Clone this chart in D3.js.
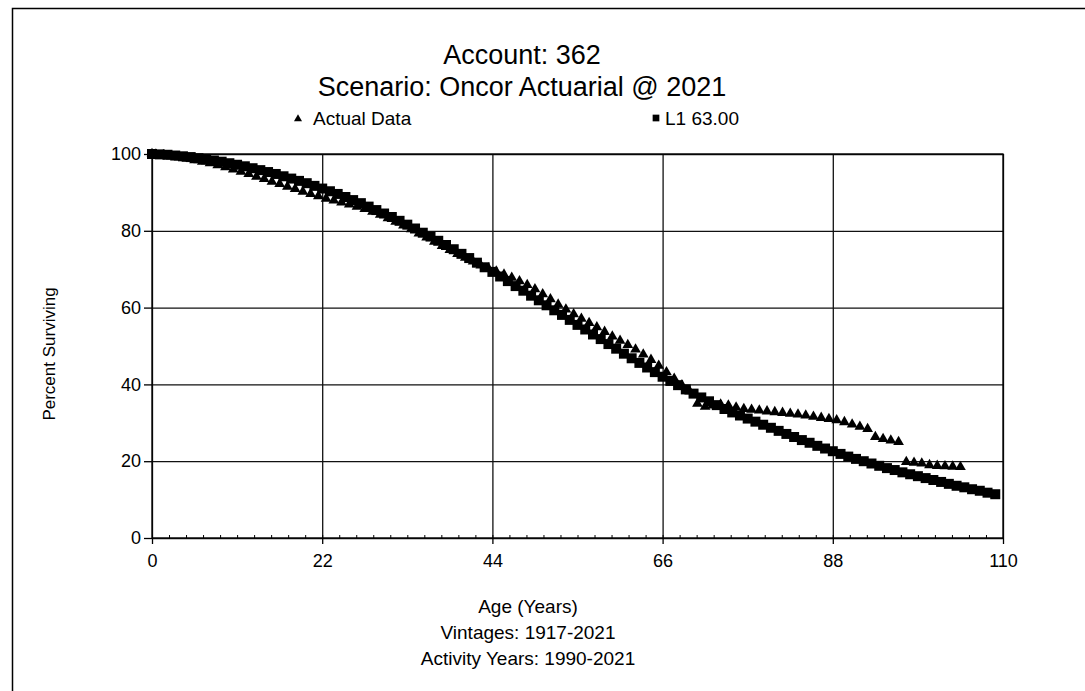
<!DOCTYPE html>
<html>
<head>
<meta charset="utf-8">
<script src="https://cdn.jsdelivr.net/npm/d3@7"></script>
<style>
  body { margin: 0; background: #fff; }
  svg { display: block; font-family: "Liberation Sans", Arial, sans-serif; }
</style>
</head>
<body>
<script>
// survivor curve, L1 63.00 (one point per year)
var curveAges = d3.range(0, 110);
var curvePct = [100,99.9,99.8,99.6,99.4,99.2,98.9,98.6,98.3,98.0,
  97.6,97.2,96.8,96.3,95.8,95.3,94.8,94.2,93.6,93.0,
  92.4,91.7,91.0,90.3,89.6,88.8,88.0,87.2,86.3,85.4,
  84.5,83.6,82.6,81.6,80.6,79.5,78.5,77.4,76.3,75.2,
  74.0,72.9,71.7,70.5,69.3,68.1,66.9,65.6,64.4,63.1,
  61.9,60.6,59.3,58.1,56.8,55.5,54.3,53.0,51.8,50.5,
  49.3,48.0,46.8,45.6,44.4,43.2,42.0,40.9,39.8,38.7,
  37.6,36.6,35.6,34.6,33.6,32.7,31.9,31.1,30.3,29.5,
  28.7,27.9,27.1,26.3,25.5,24.8,24.0,23.3,22.6,21.9,
  21.2,20.6,20.0,19.4,18.8,18.2,17.7,17.1,16.6,16.1,
  15.6,15.1,14.6,14.1,13.6,13.2,12.7,12.3,11.8,11.4];

// actual data, observed at mid-year ages
var actualAges = [0].concat(d3.range(0.5, 105, 1));
var actualPct = [100,99.9,99.7,99.4,99.1,98.8,98.4,98.0,97.6,97.1,96.6,
  96.0,95.4,94.8,94.1,93.5,92.8,92.2,91.5,90.9,90.2,
  89.6,89.0,88.4,87.9,87.4,86.9,86.3,85.7,85.0,84.2,
  83.3,82.4,81.4,80.4,79.3,78.3,77.2,76.1,75.0,74.0,
  73.0,72.0,71.0,70.2,69.4,68.6,67.8,66.9,65.9,64.8,
  63.5,62.2,60.8,59.5,58.3,57.1,56.0,54.9,53.7,52.5,
  51.4,50.3,49.1,47.8,46.4,44.9,43.2,41.5,39.8,38.2,
  35.0,34.2,34.5,34.8,34.5,34.0,33.6,33.4,33.2,33.0,
  32.8,32.6,32.4,32.2,31.9,31.6,31.3,31.0,30.7,30.2,
  29.6,29.0,28.4,26.3,25.8,25.4,25.0,19.8,19.6,19.4,
  19.0,18.8,18.7,18.6,18.5];

var xTicks = [0, 22, 44, 66, 88, 110];
var yTicks = [0, 20, 40, 60, 80, 100];
var titleLines = ["Account: 362", "Scenario: Oncor Actuarial @ 2021"];
var footLines = ["Age (Years)", "Vintages: 1917-2021", "Activity Years: 1990-2021"];
var seriesNames = ["Actual Data", "L1 63.00"];

var W = 1085, H = 691;
var margin = {top: 154, right: 82, bottom: 153, left: 152};
var width = W - margin.left - margin.right,
    height = H - margin.top - margin.bottom;

var svg = d3.select("body").append("svg")
    .attr("width", W)
    .attr("height", H);

// scanned page frame (only top and left edges show)
svg.append("path")
    .attr("d", "M12.5," + H + "V8.5H" + W)
    .attr("fill", "none")
    .attr("stroke", "#000")
    .attr("stroke-width", 1.5);

svg.selectAll(".title")
    .data(titleLines)
  .enter().append("text")
    .attr("class", "title")
    .attr("x", 522)
    .attr("y", function(d, i) { return 64 + i * 32; })
    .attr("text-anchor", "middle")
    .style("font-size", "27px")
    .text(function(d) { return d; });

var x = d3.scaleLinear().domain([0, 110]).range([0, width]);
var y = d3.scaleLinear().domain([0, 100]).range([height, 0]);

var g = svg.append("g")
    .attr("transform", "translate(" + margin.left + "," + margin.top + ")");

// grid
g.append("g")
    .attr("class", "grid")
    .call(d3.axisLeft(y).tickValues(yTicks).tickSize(-width).tickFormat(""))
    .call(function(s) { s.select(".domain").remove(); });
g.append("g")
    .attr("class", "grid")
    .attr("transform", "translate(0," + height + ")")
    .call(d3.axisBottom(x).tickValues(xTicks).tickSize(-height).tickFormat(""))
    .call(function(s) { s.select(".domain").remove(); });
g.selectAll(".grid line").attr("stroke", "#111").attr("stroke-width", 1.3);

g.append("rect")
    .attr("width", width)
    .attr("height", height)
    .attr("fill", "none")
    .attr("stroke", "#000")
    .attr("stroke-width", 1.3);

// minor ticks along the bottom
g.append("g")
    .attr("transform", "translate(0," + height + ")")
    .call(d3.axisBottom(x).tickValues(d3.range(0, 110, 2.2)).tickSize(-3).tickFormat(""))
    .call(function(s) { s.select(".domain").remove(); })
    .selectAll("line").attr("stroke", "#000");

var yAxis = g.append("g")
    .call(d3.axisLeft(y).tickValues(yTicks).tickSize(8).tickPadding(3));
var xAxis = g.append("g")
    .attr("transform", "translate(0," + height + ")")
    .call(d3.axisBottom(x).tickValues(xTicks).tickSize(6).tickPadding(10));
[xAxis, yAxis].forEach(function(a) {
  a.select(".domain").remove();
  a.selectAll("line").attr("stroke", "#000").attr("stroke-width", 1.3);
  a.selectAll("text").attr("fill", "#000").style("font-size", "18px")
    .style("font-family", "'Liberation Sans', Arial, sans-serif");
});

var square = d3.symbol().type(d3.symbolSquare).size(100);
var triangle = d3.symbol().type(d3.symbolTriangle).size(50);

g.selectAll(".sq")
    .data(curveAges)
  .enter().append("path")
    .attr("class", "sq")
    .attr("transform", function(d, i) { return "translate(" + x(d) + "," + y(curvePct[i]) + ")"; })
    .attr("d", square)
    .attr("fill", "#000");

g.selectAll(".tri")
    .data(actualAges)
  .enter().append("path")
    .attr("class", "tri")
    .attr("transform", function(d, i) { return "translate(" + x(d) + "," + y(actualPct[i]) + ")"; })
    .attr("d", triangle)
    .attr("fill", "#000");

// legend
var legend = svg.append("g");
legend.append("path")
    .attr("transform", "translate(298,119)")
    .attr("d", d3.symbol().type(d3.symbolTriangle).size(28))
    .attr("fill", "#000");
legend.append("text")
    .attr("x", 313).attr("y", 125)
    .style("font-size", "19px")
    .text(seriesNames[0]);
legend.append("path")
    .attr("transform", "translate(656,118)")
    .attr("d", d3.symbol().type(d3.symbolSquare).size(45))
    .attr("fill", "#000");
legend.append("text")
    .attr("x", 665).attr("y", 125)
    .style("font-size", "19px")
    .text(seriesNames[1]);

svg.append("text")
    .attr("transform", "translate(55," + (margin.top + height / 2 + 8) + ") rotate(-90)")
    .attr("text-anchor", "middle")
    .style("font-size", "17px")
    .text("Percent Surviving");

svg.selectAll(".foot")
    .data(footLines)
  .enter().append("text")
    .attr("class", "foot")
    .attr("x", 528)
    .attr("y", function(d, i) { return 613 + i * 26; })
    .attr("text-anchor", "middle")
    .style("font-size", "19px")
    .text(function(d) { return d; });
</script>
</body>
</html>
